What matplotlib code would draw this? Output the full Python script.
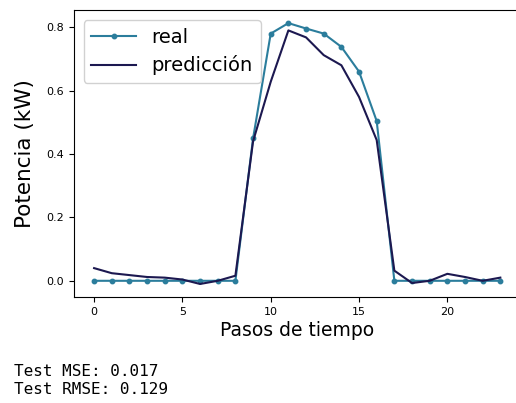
import matplotlib
matplotlib.use("Agg")
import matplotlib.pyplot as plt

# hourly steps and power values (kW)
steps = list(range(24))
real = [0.0, 0.0, 0.0, 0.0, 0.0, 0.0, 0.0, 0.0, 0.0, 0.449, 0.78, 0.813,
        0.796, 0.78, 0.738, 0.66, 0.504, 0.0, 0.0, 0.0, 0.0, 0.0, 0.0, 0.0]
pred = [0.04, 0.024, 0.018, 0.012, 0.01, 0.004, -0.01, 0.0, 0.016, 0.44,
        0.628, 0.79, 0.768, 0.712, 0.68, 0.58, 0.444, 0.032, -0.007, 0.0,
        0.022, 0.012, 0.0, 0.01]
metrics = ["Test MSE: 0.017", "Test RMSE: 0.129"]

_COLOR_REAL = "#2b7d9c"
_COLOR_PRED = "#1c1850"

fig = plt.figure(figsize=(5.16, 4.03), dpi=100)
# axes run a little past the right edge, as in the cropped screenshot
ax = fig.add_axes([0.143, 0.263, 0.866, 0.712])

ax.plot(steps, real, color=_COLOR_REAL, marker="o", markersize=3.2,
        linewidth=1.5, label="real")
ax.plot(steps, pred, color=_COLOR_PRED, linewidth=1.5, label="predicción")

ax.set_xticks([0, 5, 10, 15, 20])
ax.set_yticks([0.0, 0.2, 0.4, 0.6, 0.8])
ax.tick_params(labelsize=8)
ax.set_xlabel("Pasos de tiempo", fontsize=13.5, labelpad=3)
ax.set_ylabel("Potencia (kW)", fontsize=15.5, labelpad=8)
ax.legend(loc="upper left", fontsize=14, handlelength=2.3,
          labelspacing=0.45, framealpha=0.9)

fig.text(0.028, 0.067, metrics[0], family="DejaVu Sans Mono", fontsize=11.5,
         va="baseline")
fig.text(0.028, 0.022, metrics[1], family="DejaVu Sans Mono", fontsize=11.5,
         va="baseline")

fig.savefig("out.png", dpi=100)
plt.close(fig)
